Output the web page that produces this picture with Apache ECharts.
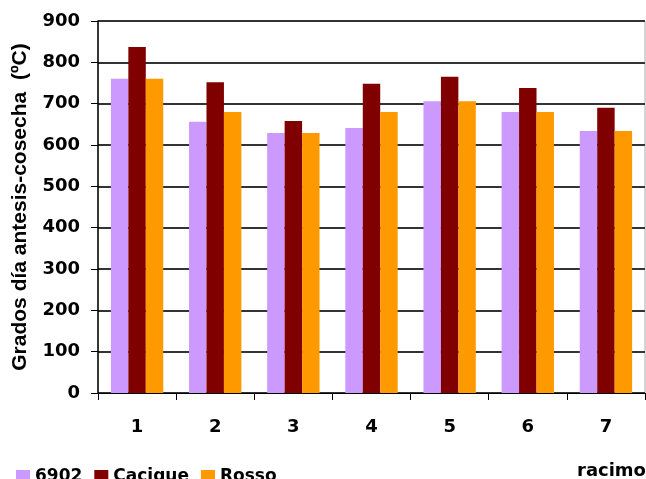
<!DOCTYPE html>
<html><head><meta charset="utf-8">
<script src="https://cdn.jsdelivr.net/npm/echarts@6/dist/echarts.min.js"></script>
<style>html,body{margin:0;padding:0;background:#fff}#c{width:646px;height:479px}</style>
</head><body><div id="c"></div>
<script>
const categories = ['1','2','3','4','5','6','7'];
const s6902 = [760, 656, 629, 641, 706, 680, 634];
const sCacique = [837, 752, 658, 748, 765, 738, 690];
const sRosso = [760, 680, 629, 680, 706, 680, 634];
const yTicks = [0,100,200,300,400,500,600,700,800,900];
const FONT = '"DejaVu Sans", "Liberation Sans", Arial, sans-serif';
const FONT2 = '"Liberation Sans", Arial, sans-serif';
const chart = echarts.init(document.getElementById('c'));
chart.setOption({
  animation: false,
  backgroundColor: '#fff',
  grid: { left: 98, top: 21, right: 1, bottom: 86, show: true, borderColor: '#aaa', borderWidth: 1 },
  legend: {
    left: 11, top: 463, itemWidth: 14, itemHeight: 13, itemGap: 12, icon: 'rect',
    textStyle: { fontFamily: FONT, fontWeight: 'bold', fontSize: 17, color: '#000' },
    data: ['6902','Cacique','Rosso']
  },
  graphic: [{ type: 'text', left: 577, top: 462, style: { text: 'racimo', font: 'bold 18px ' + FONT, fill: '#000' } }],
  xAxis: {
    type: 'category', data: categories,
    axisLine: { lineStyle: { color: '#000', width: 1 } },
    axisTick: { show: true, length: 7, lineStyle: { color: '#000' } },
    axisLabel: { margin: 25, fontFamily: FONT, fontWeight: 'bold', fontSize: 18, color: '#000' }
  },
  yAxis: {
    type: 'value', min: 0, max: 900, interval: 100,
    name: 'Grados día antesis-cosecha  (ºC)', nameLocation: 'middle', nameGap: 67,
    nameTextStyle: { fontFamily: FONT2, fontWeight: 'bold', fontSize: 21, color: '#000' },
    axisLine: { show: true, lineStyle: { color: '#000', width: 1.5 } },
    axisTick: { show: true, length: 7, lineStyle: { color: '#000' } },
    axisLabel: { margin: 18, fontFamily: FONT, fontWeight: 'bold', fontSize: 18, color: '#000',
      formatter: v => yTicks.includes(v) ? String(v) : '' },
    splitLine: { show: true, lineStyle: { color: '#333', width: 1.8 } }
  },
  series: [
    { name: '6902', type: 'bar', data: s6902, itemStyle: { color: '#CC99FF' }, barGap: '0%', barCategoryGap: '33%' },
    { name: 'Cacique', type: 'bar', data: sCacique, itemStyle: { color: '#800000' }, barGap: '0%', barCategoryGap: '33%' },
    { name: 'Rosso', type: 'bar', data: sRosso, itemStyle: { color: '#FF9900' }, barGap: '0%', barCategoryGap: '33%' }
  ]
});
</script></body></html>
